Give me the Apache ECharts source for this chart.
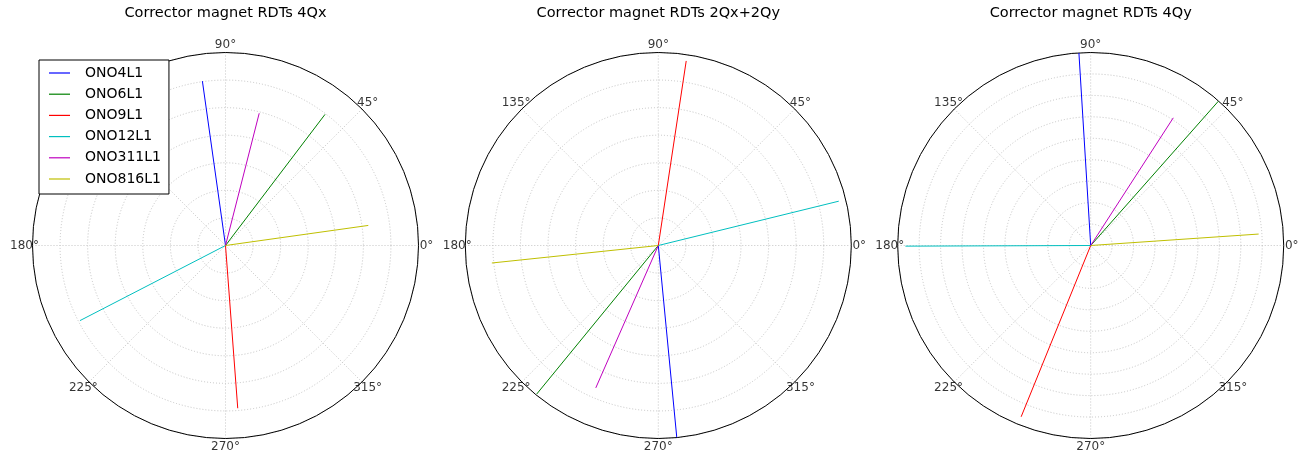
<!DOCTYPE html>
<html>
<head>
<meta charset="utf-8">
<script src="https://cdn.jsdelivr.net/npm/echarts@6/dist/echarts.min.js"></script>
<style>
  html, body { margin: 0; padding: 0; background: #fff; }
  #chart { width: 1299px; height: 455px; }
</style>
</head>
<body>
<div id="chart"></div>
<script>
// Corrector magnets and their colours
const magnets = ['ONO4L1', 'ONO6L1', 'ONO9L1', 'ONO12L1', 'ONO311L1', 'ONO816L1'];
const colors = ['#0000ff', '#008000', '#ff0000', '#00bfbf', '#bf00bf', '#bfbf00'];

// Panel titles
const titles = ['Corrector magnet RDTs 4Qx', 'Corrector magnet RDTs 2Qx+2Qy', 'Corrector magnet RDTs 4Qy'];

// RDT amplitude (arbitrary units) and phase (degrees), one entry per magnet
const amp4Qx = [6.02, 5.97, 5.92, 5.94, 4.95, 5.23];
const phase4Qx = [98.0, 52.8, 274.3, 207.3, 75.7, 8.0];

const amp2Qx2Qy = [6.99, 6.96, 6.77, 6.74, 5.64, 6.07];
const phase2Qx2Qy = [275.5, 230.7, 81.4, 13.8, 246.3, 186.0];

const amp4Qy = [9.0, 8.98, 8.62, 8.64, 7.09, 7.85];
const phase4Qy = [93.5, 48.5, 247.9, 180.2, 57.1, 3.9];

// Radial axis limits per panel
const radiusMax = [7, 7, 9];

// Angle tick labels (degrees)
const angleTicks = [0, 45, 90, 135, 180, 225, 270, 315];

const panels = [
  { amp: amp4Qx, phase: phase4Qx },
  { amp: amp2Qx2Qy, phase: phase2Qx2Qy },
  { amp: amp4Qy, phase: phase4Qy }
];

const centersX = [225.5, 658.3, 1090.7];
const centerY = 245.5;
const R = 193;          // plot radius in px
const LABEL_PAD = 8;    // angle labels are centred this many px outside the rim

const FONT = 'DejaVu Sans';
const gridLine = { color: '#c4c4c4', type: [1, 2], width: 1 };

const polar = [], angleAxis = [], radiusAxis = [], title = [], series = [];

panels.forEach((p, i) => {
  polar.push({ center: [centersX[i], centerY], radius: R });
  title.push({
    text: titles[i],
    left: centersX[i],
    top: 6,
    padding: 0,
    textAlign: 'center',
    textStyle: { fontFamily: FONT, fontSize: 14.5, fontWeight: 'normal', color: '#000' }
  });
  angleAxis.push({
    polarIndex: i,
    type: 'value',
    min: 0,
    max: 360,
    interval: 45,
    startAngle: 0,
    clockwise: false,
    axisLine: { show: true, lineStyle: { color: '#000', width: 1 } },
    axisTick: { show: false },
    axisLabel: { show: false },
    splitLine: { show: true, lineStyle: gridLine }
  });
  radiusAxis.push({
    polarIndex: i,
    type: 'value',
    min: 0,
    max: radiusMax[i],
    interval: 1,
    axisLine: { show: false },
    axisTick: { show: false },
    axisLabel: { show: false },
    splitLine: { show: true, lineStyle: gridLine }
  });

  // Angle tick labels, centred just outside the rim like matplotlib's polar axes
  const labelR = radiusMax[i] * (R + LABEL_PAD) / R;
  series.push({
    type: 'scatter',
    coordinateSystem: 'polar',
    polarIndex: i,
    symbolSize: 0,
    silent: true,
    clip: false,
    data: angleTicks.map(a => [labelR, a]),
    label: {
      show: true,
      position: 'inside',
      formatter: d => d.value[1] + '\u00b0',
      fontFamily: FONT,
      fontSize: 12,
      color: '#000'
    },
    z: 4
  });

  magnets.forEach((name, k) => {
    series.push({
      name: name,
      type: 'line',
      coordinateSystem: 'polar',
      polarIndex: i,
      symbol: 'none',
      silent: true,
      lineStyle: { color: colors[k], width: 1 },
      itemStyle: { color: colors[k] },
      data: [[0, p.phase[k]], [p.amp[k], p.phase[k]]],
      z: 3
    });
  });
});

const chart = echarts.init(document.getElementById('chart'), null, { renderer: 'canvas' });
chart.setOption({
  animation: false,
  backgroundColor: '#fff',
  title: title,
  polar: polar,
  angleAxis: angleAxis,
  radiusAxis: radiusAxis,
  legend: {
    data: magnets.map(n => ({ name: n, icon: 'rect' })),
    orient: 'vertical',
    left: 39,
    top: 60,
    padding: [6, 8, 8, 10],
    itemGap: 7.2,
    itemWidth: 21,
    itemHeight: 1.2,
    backgroundColor: '#fff',
    borderColor: '#000',
    borderWidth: 1,
    borderRadius: 0,
    selectedMode: false,
    textStyle: { fontFamily: FONT, fontSize: 14, lineHeight: 14, color: '#000', padding: [0, 0, 0, 10] },
    z: 10
  },
  series: series
});
</script>
</body>
</html>
